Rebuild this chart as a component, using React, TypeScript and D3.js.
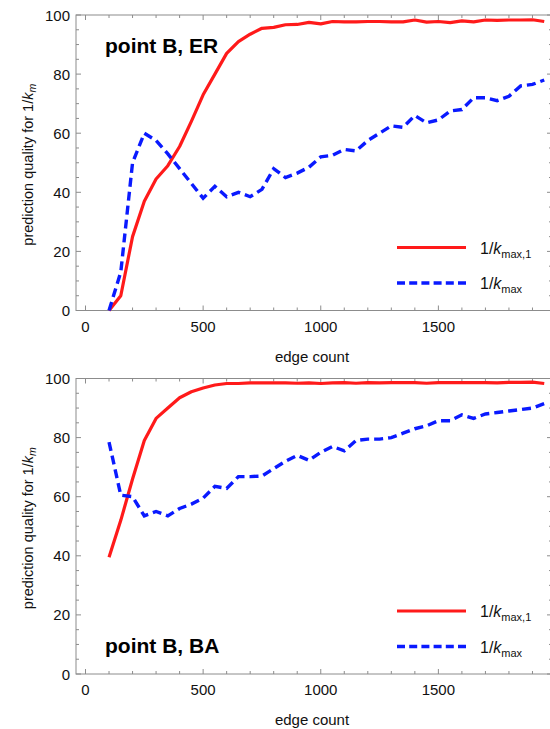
import React from 'react';
import * as d3 from 'd3';

// edge counts sampled in both panels
const edgeCounts = [
  100, 150, 200, 250, 300, 350, 400, 450, 500, 550, 600, 650, 700, 750, 800, 850, 900, 950, 1000,
  1050, 1100, 1150, 1200, 1250, 1300, 1350, 1400, 1450, 1500, 1550, 1600, 1650, 1700, 1750, 1800,
  1850, 1900, 1950,
];

// point B, ER
const erKmax1 = [
  0, 5, 25, 37, 44.5, 49, 55.5, 64, 73, 80, 87, 91, 93.5, 95.5, 95.8, 96.7, 96.8, 97.5, 97,
  97.8, 97.7, 97.7, 97.8, 97.8, 97.7, 97.7, 98.3, 97.6, 97.8, 97.4, 98, 97.7, 98.3, 98.2, 98.3,
  98.3, 98.4, 97.8,
];
const erKmax = [
  0, 13, 50, 60, 57.5, 53, 48, 43, 38, 42, 38.5, 40, 38.5, 41, 48, 45, 46.5, 48.5, 52,
  52.5, 54.5, 54, 57.5, 60, 62.5, 62, 66, 63.5, 64.5, 67.5, 68, 72, 72, 71, 72.5,
  76, 76.5, 78,
];

// point B, BA
const baKmax1 = [
  39.5, 52, 66, 79, 86.5, 90, 93.5, 95.5, 96.8, 97.8, 98.3, 98.3, 98.5, 98.5, 98.5, 98.5, 98.4, 98.5, 98.3,
  98.5, 98.6, 98.4, 98.6, 98.5, 98.6, 98.6, 98.6, 98.4, 98.6, 98.6, 98.6, 98.6, 98.6, 98.5, 98.7,
  98.7, 98.8, 98.3,
];
const baKmax = [
  78.5, 60.5, 60, 53.5, 55, 53.5, 56, 57.5, 59.5, 63.5, 62.8, 66.8, 66.8, 67, 69.5, 72, 74, 72.3, 75,
  77, 75.5, 79, 79.5, 79.5, 80, 81.5, 83, 84, 85.7, 85.7, 87.7, 86.5, 88, 88.5, 89,
  89.5, 90, 91.5,
];

const xTickLabels = [0, 500, 1000, 1500];
const yTickLabels = [0, 20, 40, 60, 80, 100];

const FONT = '"Liberation Sans", Arial, Helvetica, sans-serif';
const FRAME = '#8c8c8c';
const RED = '#ff1a1a';
const BLUE = '#0a1aff';

const frameLeft = 76;
const frameRight = 552;
const x = d3.scaleLinear().domain([0, 2000]).range([85.5, 556]);

type PanelProps = {
  top: number;
  red: number[];
  blue: number[];
  title: string;
  titleY: number;
};

const Panel = ({ top, red, blue, title, titleY }: PanelProps) => {
  const y = d3.scaleLinear().domain([0, 100]).range([top + 295.5, top]);
  const bottom = y(0);

  const line = d3
    .line<number>()
    .x((_, i) => x(edgeCounts[i]))
    .y((d) => y(d));

  const xMinor = x.ticks(20).filter((t) => !xTickLabels.includes(t));
  const yMinor = y.ticks(20).filter((t) => !yTickLabels.includes(t));

  const legendRed = bottom - 63;
  const legendBlue = bottom - 27.5;

  return (
    <g>
      {/* frame */}
      <rect
        x={frameLeft}
        y={top}
        width={frameRight - frameLeft}
        height={bottom - top}
        fill="none"
        stroke={FRAME}
        strokeWidth={1}
      />
      {/* x ticks, bottom and top */}
      {xTickLabels.map((t) => (
        <g key={'xM' + t}>
          <line x1={x(t)} x2={x(t)} y1={bottom} y2={bottom - 5} stroke={FRAME} />
          <line x1={x(t)} x2={x(t)} y1={top} y2={top + 5} stroke={FRAME} />
          <text
            x={x(t)}
            y={bottom + 21}
            textAnchor="middle"
            fontSize={15}
            fontFamily={FONT}
            fill="#111"
          >
            {t}
          </text>
        </g>
      ))}
      {xMinor.map((t) => (
        <g key={'xm' + t}>
          <line x1={x(t)} x2={x(t)} y1={bottom} y2={bottom - 3} stroke={FRAME} />
          <line x1={x(t)} x2={x(t)} y1={top} y2={top + 3} stroke={FRAME} />
        </g>
      ))}
      {/* y ticks, left and right */}
      {yTickLabels.map((t) => (
        <g key={'yM' + t}>
          <line x1={frameLeft} x2={frameLeft + 5} y1={y(t)} y2={y(t)} stroke={FRAME} />
          <line x1={frameRight} x2={frameRight - 5} y1={y(t)} y2={y(t)} stroke={FRAME} />
          <text
            x={70}
            y={y(t) + 5.5}
            textAnchor="end"
            fontSize={15}
            fontFamily={FONT}
            fill="#111"
          >
            {t}
          </text>
        </g>
      ))}
      {yMinor.map((t) => (
        <g key={'ym' + t}>
          <line x1={frameLeft} x2={frameLeft + 3} y1={y(t)} y2={y(t)} stroke={FRAME} />
          <line x1={frameRight} x2={frameRight - 3} y1={y(t)} y2={y(t)} stroke={FRAME} />
        </g>
      ))}

      {/* series */}
      <path
        d={line(red) || ''}
        fill="none"
        stroke={RED}
        strokeWidth={3.2}
        strokeLinejoin="round"
      />
      <path
        d={line(blue) || ''}
        fill="none"
        stroke={BLUE}
        strokeWidth={3.4}
        strokeDasharray="9 5"
      />

      {/* panel label */}
      <text x={105} y={titleY} fontSize={21} fontWeight="bold" fontFamily={FONT} fill="#000">
        {title}
      </text>

      {/* legend */}
      <line x1={397} x2={466} y1={legendRed} y2={legendRed} stroke={RED} strokeWidth={3.2} />
      <text x={480} y={legendRed + 6} fontSize={16} fontFamily={FONT} fill="#111">
        1/<tspan fontStyle="italic">k</tspan>
        <tspan fontSize={11} dy={4}>
          max,1
        </tspan>
      </text>
      <line
        x1={397}
        x2={466}
        y1={legendBlue}
        y2={legendBlue}
        stroke={BLUE}
        strokeWidth={3.4}
        strokeDasharray="8 4.2"
      />
      <text x={480} y={legendBlue + 6} fontSize={16} fontFamily={FONT} fill="#111">
        1/<tspan fontStyle="italic">k</tspan>
        <tspan fontSize={11} dy={4}>
          max
        </tspan>
      </text>

      {/* axis titles */}
      <text
        x={312}
        y={bottom + 51}
        textAnchor="middle"
        fontSize={15}
        fontFamily={FONT}
        fill="#111"
      >
        edge count
      </text>
      <text
        transform={`translate(33, ${(top + bottom) / 2 + 2}) rotate(-90)`}
        textAnchor="middle"
        fontSize={14.5}
        fontFamily={FONT}
        fill="#111"
      >
        prediction quality for 1/<tspan fontStyle="italic">k</tspan>
        <tspan fontStyle="italic" fontSize={10.5} dy={3}>
          m
        </tspan>
      </text>
    </g>
  );
};

export default function App() {
  return (
    <svg
      width={550}
      height={729}
      style={{ position: 'absolute', left: 0, top: 0, background: '#fff' }}
    >
      <Panel top={15} red={erKmax1} blue={erKmax} title="point B, ER" titleY={52.5} />
      <Panel top={378.5} red={baKmax1} blue={baKmax} title="point B, BA" titleY={653} />
    </svg>
  );
}
